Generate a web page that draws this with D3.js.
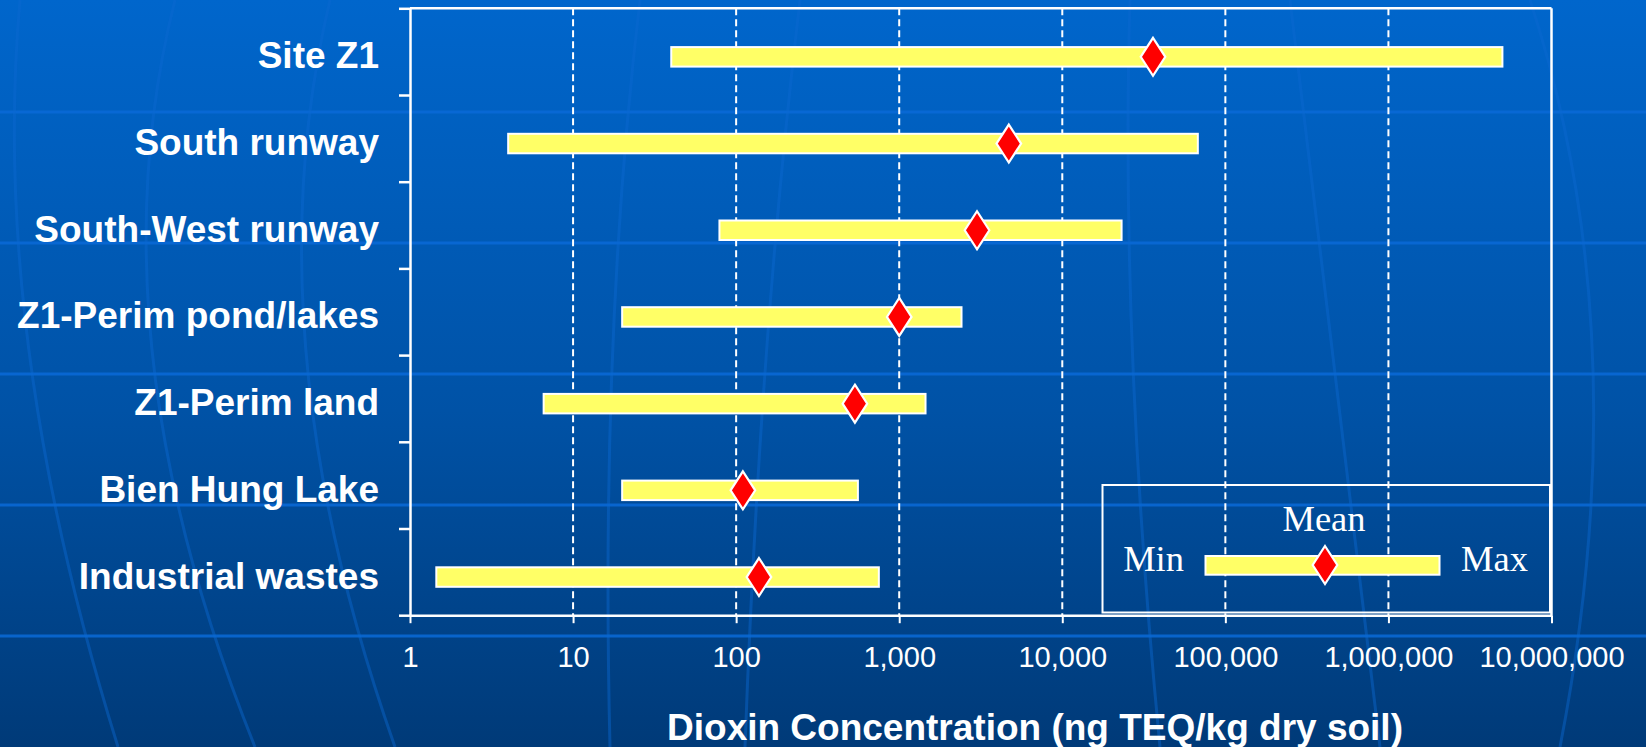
<!DOCTYPE html>
<html>
<head>
<meta charset="utf-8">
<script src="https://cdn.jsdelivr.net/npm/d3@7"></script>
<style>
  html, body { margin: 0; padding: 0; background: #004a99; }
  svg { display: block; }
</style>
</head>
<body>
<svg id="chart" width="1646" height="747"></svg>
<script>
// ---- Data ----
const categories = ["Site Z1", "South runway", "South-West runway", "Z1-Perim pond/lakes", "Z1-Perim land", "Bien Hung Lake", "Industrial wastes"];
const minValues  = [40, 4, 79, 20, 6.6, 20, 1.45];
const maxValues  = [5000000, 67800, 23100, 2410, 1450, 558, 750];
const meanValues = [36000, 4700, 3000, 1000, 535, 110, 138];
const tickValues = [1, 10, 100, 1000, 10000, 100000, 1000000, 10000000];
const tickLabels = ["1", "10", "100", "1,000", "10,000", "100,000", "1,000,000", "10,000,000"];
const xTitle = "Dioxin Concentration (ng TEQ/kg dry soil)";
const legendLabels = { min: "Min", mean: "Mean", max: "Max" };

const rows = categories.map((c, i) => ({ cat: c, min: minValues[i], max: maxValues[i], mean: meanValues[i] }));

// ---- Layout ----
const W = 1646, H = 747;
const pLeft = 410, pRight = 1551.5, pTop = 8.3, pBottom = 615.2;
const sans = "'Liberation Sans', Arial, Helvetica, sans-serif";
const serif = "'Liberation Serif', 'Times New Roman', serif";

const svg = d3.select("#chart");
const defs = svg.append("defs");
const grad = defs.append("linearGradient").attr("id", "bg").attr("x1", 0).attr("y1", 0).attr("x2", 0).attr("y2", 1);
grad.append("stop").attr("offset", "0%").attr("stop-color", "#0066cc");
grad.append("stop").attr("offset", "55%").attr("stop-color", "#0052a6");
grad.append("stop").attr("offset", "100%").attr("stop-color", "#003a78");
svg.append("rect").attr("width", W).attr("height", H).attr("fill", "url(#bg)");

// decorative background
const deco = svg.append("g");
[112, 243, 374, 505, 636].forEach(yy => {
  deco.append("line").attr("x1", 0).attr("x2", W).attr("y1", yy).attr("y2", yy)
    .attr("stroke", "#0a6ad8").attr("stroke-width", 3).attr("opacity", 0.85);
});
const arcs = [
  [20, -10, 118], [175, 90, 255], [330, 250, 395], [640, 600, 610], [800, 760, 745],
  [1130, 1120, 1160], [1290, 1330, 1380], [1530, 1640, 1560]
];
arcs.forEach(([x0, xm, x1]) => {
  deco.append("path")
    .attr("d", `M${x0},0 Q${xm},${H * 0.45} ${x1},${H}`)
    .attr("fill", "none").attr("stroke", "#0a68d0").attr("stroke-width", 3).attr("opacity", 0.45);
});

// ---- Scales ----
const x = d3.scaleLog().domain([1, 1e7]).range([pLeft, pRight]);
const y = d3.scaleBand().domain(categories).range([pTop, pBottom]);
const yb = d3.scaleLinear().domain([0, categories.length]).range([pTop, pBottom]);
const barOffset = 5.2;
const cy = c => y(c) + y.bandwidth() / 2 + barOffset;

// ---- Gridlines ----
svg.append("g").selectAll("line").data(tickValues.slice(1, -1)).join("line")
  .attr("x1", d => x(d)).attr("x2", d => x(d))
  .attr("y1", pTop).attr("y2", pBottom)
  .attr("stroke", "#ffffff").attr("stroke-width", 2).attr("stroke-dasharray", "7,4");

// ---- Frame ----
svg.append("line").attr("x1", pLeft).attr("x2", pRight).attr("y1", pTop).attr("y2", pTop)
  .attr("stroke", "#fff").attr("stroke-width", 2.5);
svg.append("line").attr("x1", pRight).attr("x2", pRight).attr("y1", pTop).attr("y2", pBottom)
  .attr("stroke", "#fff").attr("stroke-width", 2.5);

// ---- Axes ----
const xAxis = d3.axisBottom(x).tickValues(tickValues)
  .tickFormat((d, i) => tickLabels[i]).tickSize(8).tickSizeOuter(0).tickPadding(23.4);
const gx = svg.append("g").attr("transform", `translate(0,${pBottom})`).call(xAxis);
gx.select(".domain").attr("stroke", "#fff").attr("stroke-width", 2.5);
gx.selectAll(".tick line").attr("stroke", "#fff").attr("stroke-width", 2);
gx.selectAll(".tick text").attr("fill", "#fff").attr("font-family", sans).attr("font-size", 29);

const yAxis = d3.axisLeft(yb).tickValues(d3.range(0, categories.length + 1))
  .tickFormat("").tickSize(11).tickSizeOuter(0);
const gy = svg.append("g").attr("transform", `translate(${pLeft},0)`).call(yAxis);
gy.select(".domain").attr("stroke", "#fff").attr("stroke-width", 2.5);
gy.selectAll(".tick line").attr("stroke", "#fff").attr("stroke-width", 2.5);

// category labels
svg.append("g").selectAll("text").data(rows).join("text")
  .attr("x", 379).attr("y", d => cy(d.cat) + 11.5)
  .attr("text-anchor", "end").attr("fill", "#fff")
  .attr("font-family", sans).attr("font-weight", "bold").attr("font-size", 37)
  .text(d => d.cat);

// axis title
svg.append("text").attr("x", 1035).attr("y", 740).attr("text-anchor", "middle")
  .attr("fill", "#fff").attr("font-family", sans).attr("font-weight", "bold").attr("font-size", 37)
  .text(xTitle);

// ---- Legend box (behind marks) ----
const lg = svg.append("g");
lg.append("rect").attr("x", 1102.5).attr("y", 485).attr("width", 447.5).attr("height", 127.5)
  .attr("fill", "none").attr("stroke", "#fff").attr("stroke-width", 2);

// ---- Bars ----
const barH = 19.5;
svg.append("g").selectAll("rect").data(rows).join("rect")
  .attr("x", d => x(d.min)).attr("width", d => x(d.max) - x(d.min))
  .attr("y", d => cy(d.cat) - barH / 2).attr("height", barH)
  .attr("fill", "#ffff66").attr("stroke", "#fff").attr("stroke-width", 2);

const diamond = (hw, hh) => `M0,${-hh}L${hw},0L0,${hh}L${-hw},0Z`;
svg.append("g").selectAll("path").data(rows).join("path")
  .attr("transform", d => `translate(${x(d.mean)},${cy(d.cat)})`)
  .attr("d", diamond(12.3, 19))
  .attr("fill", "#ff0000").attr("stroke", "#fff").attr("stroke-width", 2.2).attr("stroke-linejoin", "miter");

// ---- Legend contents ----
lg.append("rect").attr("x", 1205.5).attr("y", 556).attr("width", 234).attr("height", 18.7)
  .attr("fill", "#ffff66").attr("stroke", "#fff").attr("stroke-width", 2);
lg.append("path").attr("transform", "translate(1325,565)").attr("d", diamond(12.3, 19))
  .attr("fill", "#ff0000").attr("stroke", "#fff").attr("stroke-width", 2.2);
lg.append("text").attr("x", 1324).attr("y", 531).attr("text-anchor", "middle")
  .attr("fill", "#fff").attr("font-family", serif).attr("font-size", 36.5).text(legendLabels.mean);
lg.append("text").attr("x", 1184).attr("y", 571).attr("text-anchor", "end")
  .attr("fill", "#fff").attr("font-family", serif).attr("font-size", 36.5).text(legendLabels.min);
lg.append("text").attr("x", 1461).attr("y", 571).attr("text-anchor", "start")
  .attr("fill", "#fff").attr("font-family", serif).attr("font-size", 36.5).text(legendLabels.max);
</script>
</body>
</html>
